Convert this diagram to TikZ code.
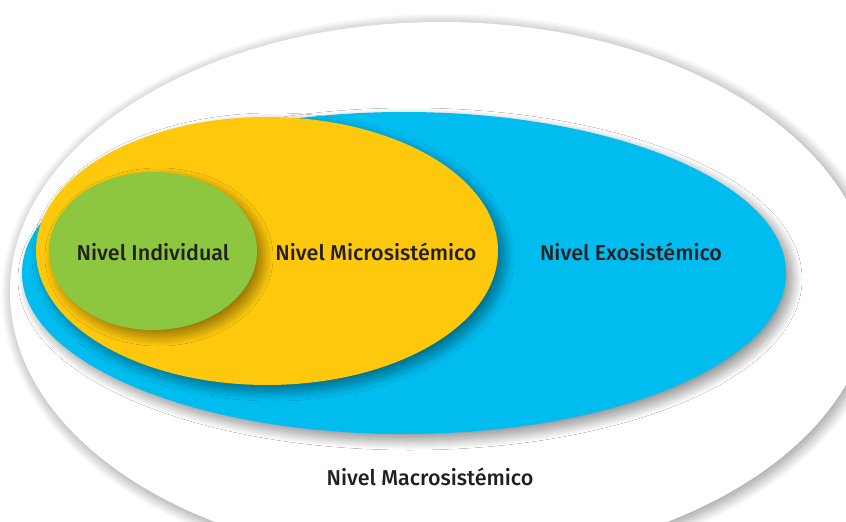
\documentclass[tikz,border=0pt]{standalone}
\usepackage{fontspec}
\setsansfont{Fira Sans}[UprightFont=* Medium]
\usetikzlibrary{shapes.geometric, shadows.blur}
\definecolor{exoblue}{RGB}{0,188,239}
\definecolor{microyellow}{RGB}{254,200,12}
\definecolor{indgreen}{RGB}{141,198,63}
\definecolor{labelink}{RGB}{35,31,32}
\tikzset{level/.style={ellipse, inner sep=0pt, draw=none},
  levelshadow/.style 2 args={blur shadow={shadow xshift=#1, shadow yshift=-#1, shadow blur radius=#2, shadow blur steps=30, shadow opacity=45}},
  leveltext/.style={font=\sffamily\fontsize{21.5}{21.5}\selectfont, text=labelink, inner sep=0pt}}

\begin{document}
\begin{tikzpicture}[x=1pt,y=-1pt]
  \useasboundingbox (0,0) rectangle (846,522);
  \clip (0,0) rectangle (846,522);
  % nested levels
  \node[level, fill=white, minimum width=862, minimum height=540, levelshadow={3pt}{12pt}] (macro) at (441,292) {};
  \node[level, fill=exoblue, minimum width=764, minimum height=322, levelshadow={6pt}{10pt}] (exo) at (404,273) {};
  \node[level, fill=microyellow, minimum width=462, minimum height=268, levelshadow={6pt}{10pt}] (micro) at (267,251) {};
  \node[level, fill=indgreen, minimum width=208, minimum height=158, levelshadow={6pt}{10pt}] (indiv) at (153,251) {};
  % labels
  \node[leveltext] (indivtext) at (153,252) {Nivel Individual};
  \node[leveltext] (microtext) at (376,252) {Nivel Microsistémico};
  \node[leveltext] (exotext) at (631,252) {Nivel Exosistémico};
  \node[leveltext] (macrotext) at (430,477) {Nivel Macrosistémico};
\end{tikzpicture}
\end{document}
